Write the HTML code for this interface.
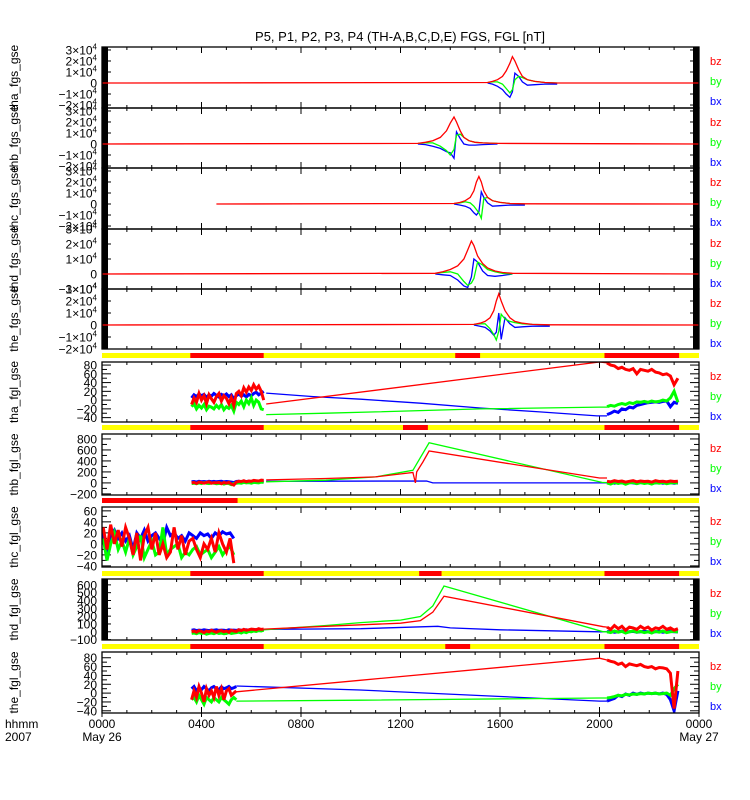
<!DOCTYPE html>
<html><head><meta charset="utf-8"><style>
html,body{margin:0;padding:0;background:#fff;}
svg{display:block;font-family:"Liberation Sans",sans-serif;}
</style></head><body>
<svg id="chart" width="750" height="800" viewBox="0 0 750 800" xmlns="http://www.w3.org/2000/svg">
<rect x="0" y="0" width="750" height="800" fill="#fff"/>
<text x="400" y="41" text-anchor="middle" font-size="13">P5, P1, P2, P3, P4 (TH-A,B,C,D,E) FGS, FGL [nT]</text>
<text x="5" y="728" font-size="12">hhmm</text>
<text x="5" y="741" font-size="12">2007</text>
</svg>
<script>
// ---------- data ----------
const xTickLabels = ["0000","0400","0800","1200","1600","2000","0000"];
const xTickHours = [0,4,8,12,16,20,24];
const xDateLabels = ["May 26","","","","","","May 27"];

// FGS (units of 1e4 nT)
const thaFgsT = [15.5,15.7,15.9,16.1,16.25,16.4,16.5,16.6,16.75,16.9,17.1,17.4,17.8,18.3];
const thaFgsBz = [0.05,0.15,0.3,0.6,1.1,1.8,2.4,2.0,1.2,0.6,0.3,0.15,0.05,0];
const thaFgsBx = [0,-0.1,-0.3,-0.6,-1.0,-1.3,-0.8,0.9,0.6,0.1,-0.2,-0.15,-0.1,-0.1];
const thaFgsBy = [0.05,0.1,0.1,-0.1,-0.5,-0.9,-0.6,0.3,0.6,0.5,0.3,0.15,0.05,0];
const thbFgsT = [12.7,13.0,13.3,13.6,13.85,14.0,14.15,14.25,14.4,14.55,14.75,15.0,15.3,15.9];
const thbFgsBz = [0.05,0.15,0.3,0.6,1.2,1.9,2.45,2.0,1.2,0.6,0.3,0.15,0.1,0.05];
const thbFgsBx = [0,-0.05,-0.2,-0.4,-0.7,-0.8,-1.3,1.1,0.5,0.0,-0.1,-0.1,-0.05,0];
const thbFgsBy = [0.05,0.1,0.1,-0.2,-0.6,-1.0,-0.5,0.8,0.9,0.6,0.3,0.15,0.1,0.05];
const thcFgsT = [14.15,14.4,14.6,14.8,14.95,15.05,15.15,15.25,15.35,15.5,15.7,16.0,16.4,17.0];
const thcFgsBz = [0.05,0.15,0.3,0.6,1.2,2.0,2.5,2.0,1.2,0.6,0.3,0.15,0.05,0.02];
const thcFgsBx = [0,-0.1,-0.2,-0.4,-0.8,-1.0,-0.7,1.1,0.6,0.1,-0.2,-0.15,-0.1,-0.1];
const thcFgsBy = [0.05,0.1,0.2,0.1,-0.2,-0.5,-0.8,-1.3,0.5,0.6,0.3,0.15,0.05,0];
const thdFgsT = [13.4,13.7,14.0,14.3,14.55,14.7,14.85,14.95,15.1,15.3,15.5,15.8,16.1,16.5];
const thdFgsBz = [0.05,0.15,0.3,0.55,1.0,1.6,2.2,1.9,1.2,0.7,0.4,0.2,0.1,0.05];
const thdFgsBx = [0,-0.05,-0.1,-0.4,-0.8,-0.9,-0.2,1.0,0.8,0.2,-0.1,-0.15,-0.1,0];
const thdFgsBy = [0.05,0.1,0.15,0,-0.5,-0.75,-0.6,-0.3,0.8,0.6,0.3,0.15,0.05,0];
const theFgsT = [14.95,15.2,15.4,15.6,15.75,15.85,15.95,16.05,16.2,16.4,16.6,16.9,17.3,18.0];
const theFgsBz = [0.05,0.15,0.3,0.6,1.2,2.0,2.6,2.0,1.2,0.6,0.3,0.15,0.05,0.02];
const theFgsBx = [0,-0.1,-0.2,-0.5,-0.85,-0.6,1.0,-1.2,0.6,0.1,-0.2,-0.15,-0.1,-0.1];
const theFgsBy = [0.05,0.1,0.1,-0.3,-0.8,-1.25,-0.5,0.9,0.5,0.3,0.2,0.1,0.05,0];
const fgsRedStart = [0,0,4.6,0,0];

// FGL shared noisy time bases (hours)
const noisyStartT = [3.6,3.7,3.8,3.9,4.0,4.1,4.2,4.3,4.4,4.5,4.6,4.7,4.8,4.9,5.0,5.1,5.2,5.3,5.4,5.5,5.6,5.7,5.8,5.9,6.0,6.1,6.2,6.3,6.4,6.5];
const noisyEndT = [20.3,20.45,20.6,20.75,20.9,21.05,21.2,21.35,21.5,21.65,21.8,21.95,22.1,22.25,22.4,22.55,22.7,22.85,23.0,23.15];
const thcNoisyT = [0.05,0.2,0.35,0.5,0.65,0.8,0.95,1.1,1.25,1.4,1.55,1.7,1.85,2.0,2.15,2.3,2.45,2.6,2.75,2.9,3.05,3.2,3.35,3.5,3.65,3.8,3.95,4.1,4.25,4.4,4.55,4.7,4.85,5.0,5.15,5.3];
const theNoisyT = [3.6,3.7,3.8,3.9,4.0,4.1,4.2,4.3,4.4,4.5,4.6,4.7,4.8,4.9,5.0,5.1,5.2,5.3,5.4];

// tha_fgl
const thaStartBx = [5,12,8,14,10,13,6,12,9,15,11,7,13,10,14,8,12,3,10,14,9,12,7,13,10,15,18,12,16,20];
const thaStartBz = [-10,5,-5,15,0,10,-8,12,3,-5,8,15,-2,10,4,-8,6,-12,15,20,10,28,18,30,22,35,25,32,20,0];
const thaStartBy = [-15,-8,-20,-12,-18,-10,-22,-14,-16,-20,-12,-18,-10,-22,-15,-19,-12,-25,-5,-10,-2,-15,0,-8,5,-12,0,-5,-20,-22];
const thaMidBxT = [6.6,8.5,10.4,12.8,15.2,17.6,19.9,20.3];
const thaMidBx = [16,8,2,-7,-18,-27,-36,-36];
const thaMidBzT = [6.6,20.0,20.3];
const thaMidBz = [-9,87,85];
const thaMidByT = [6.6,9,11,15.2,20,20.3];
const thaMidBy = [-33,-30,-27,-20,-16,-16];
const thaEndBz = [85,80,78,72,75,70,68,72,60,70,68,66,70,64,62,58,60,55,35,50];
const thaEndBy = [-15,-12,-14,-10,-8,-10,-6,-8,-4,-5,-3,-5,-2,-4,-3,0,-2,5,20,-5];
const thaEndBx = [-33,-30,-25,-28,-20,-22,-16,-18,-12,-10,-8,-6,-5,-4,-5,-3,-2,-15,-5,-8];

// thb_fgl
const thbStartBz = [0,10,-10,15,5,-5,10,20,-8,5,0,12,-15,8,-5,10,-20,-40,15,30,25,40,20,35,30,45,40,35,50,45];
const thbStartBy = [-10,-5,-15,0,-10,5,-8,-12,0,-5,-15,-10,-5,-20,-8,-12,-30,-10,-5,0,-5,10,0,5,-5,10,5,0,15,10];
const thbStartBx = [20,25,15,30,20,25,18,30,22,28,20,25,30,18,25,20,15,5,25,30,20,28,25,30,22,30,28,25,30,30];
const thbMidBzT = [6.6,9,11,12.5,12.6,12.65,12.9,13.15,20,20.3];
const thbMidBz = [55,80,110,190,0,200,380,580,90,90];
const thbMidByT = [6.6,9,11,12.5,13.15,20.1,20.3];
const thbMidBy = [20,50,110,230,730,10,5];
const thbMidBxT = [6.6,13.05,13.3,20.3];
const thbMidBx = [30,35,0,0];
const thbEndBz = [30,20,40,25,35,15,30,40,20,35,25,30,15,40,25,30,20,35,25,30];
const thbEndBy = [0,-20,10,-10,5,-25,0,10,-15,5,-10,0,-20,5,-5,10,-15,0,5,-5];
const thbEndBx = [0,10,-5,5,0,-5,10,0,-10,5,0,5,-5,0,10,-5,0,5,-5,0];

// thc_fgl
const thcBx = [20,-20,15,25,10,20,5,15,-10,20,10,25,5,15,20,10,0,30,15,20,10,15,5,20,15,10,20,15,18,10,20,15,22,18,20,10];
const thcBy = [10,-30,0,20,-10,5,-15,10,-20,-5,15,-25,-10,5,-20,-15,30,-20,-10,-5,0,-25,-15,-20,-10,-5,-20,-15,-10,-25,-15,-5,-20,-10,-5,-20];
const thcBz = [30,-10,35,0,25,-5,30,10,-20,20,-30,15,30,-10,20,-20,0,-25,-15,30,-10,15,-20,5,10,-10,-25,0,-10,10,-15,20,0,-15,10,-35];

// thd_fgl
const thdStartBx = [20,25,15,22,18,25,20,15,22,20,25,18,22,20,15,25,20,22,18,25,20,22,25,20,30,25,28,30,25,30];
const thdStartBz = [0,10,-5,15,5,-10,10,0,20,5,-5,10,15,0,10,-5,20,10,5,25,15,30,20,25,35,30,25,40,30,35];
const thdStartBy = [-20,-15,-25,-10,-20,-15,-30,-20,-15,-25,-10,-20,-15,-25,-20,-10,-20,-15,-10,-5,-15,0,-10,5,0,10,5,15,10,20];
const thdMidT = [6.5,9,10.4,12,12.8,13.3,13.75,20.15,20.3];
const thdMidBz = [35,70,90,110,143,250,455,65,60];
const thdMidBy = [25,80,117,150,195,330,585,0,0];
const thdMidBxT = [6.5,10.4,13,13.5,14,16,20,20.3];
const thdMidBx = [30,40,65,70,50,25,0,0];
const thdEndBz = [60,30,80,40,70,20,60,50,30,70,40,60,20,50,40,70,30,50,20,40];
const thdEndBy = [0,-10,10,-5,5,-15,0,10,-5,5,-10,0,-15,5,-5,10,-10,0,5,-5];
const thdEndBx = [0,5,-5,0,10,-5,0,5,-5,0,5,0,-5,0,5,-5,0,5,0,0];

// the_fgl
const theStartBx = [10,15,5,12,8,15,10,5,12,15,10,8,14,10,12,15,10,12,15];
const theStartBz = [-15,5,-10,15,0,-20,10,-5,5,-10,15,-5,10,-15,5,10,-5,0,5];
const theStartBy = [-15,-10,-20,-5,-15,-25,-10,-15,-20,-10,-15,-20,-10,-15,-20,-25,-15,-10,-15];
const theMidT = [5.4,10.37,20.0,20.3];
const theMidBz = [3,29,79,75];
const theMidBx = [16,7,-18,-18];
const theMidBy = [-18,-16,-11,-11];
const theEndBz = [75,72,70,65,68,60,66,64,62,65,60,58,60,55,58,57,55,45,-35,50];
const theEndBx = [-18,-15,-12,-5,-8,-2,-5,0,-3,0,-2,0,-1,0,-2,0,-3,-15,-40,5];
const theEndBy = [-11,-10,-8,-5,-6,-3,-4,-2,-3,-1,-2,0,-1,0,-2,-1,0,-5,10,20];

// ephemeris bars: red segments in hours
const bar1Red = [[3.55,6.5],[14.2,15.2],[20.2,23.2]];
const bar2Red = [[3.55,6.5],[12.1,13.1],[20.2,23.2]];
const bar3Red = [[0,5.45]];
const bar4Red = [[3.55,6.5],[12.75,13.65],[20.2,23.2]];
const bar5Red = [[3.55,6.5],[13.8,14.8],[20.2,23.2]];

// ---------- drawing ----------
const svg = document.getElementById('chart');
const NS = 'http://www.w3.org/2000/svg';
const X0 = 102, X1 = 699;
function xs(t){ return X0 + t*(X1-X0)/24; }
function mk(tag, attrs){ const e=document.createElementNS(NS,tag); for(const k in attrs) e.setAttribute(k,attrs[k]); svg.appendChild(e); return e; }
const RED='#ff0000', GRN='#00ff00', BLU='#0000ff';

const panels = [
 {name:'tha_fgs_gse', top:47, bot:108, ymin:-2.27, ymax:3.27, ticks:[3,2,1,0,-1,-2], sci:true, lb:true, rb:true},
 {name:'thb_fgs_gse', top:108, bot:168, ymin:-2.18, ymax:3.27, ticks:[3,2,1,0,-1,-2], sci:true, lb:true, rb:true},
 {name:'thc_fgs_gse', top:168, bot:229, ymin:-2.27, ymax:3.27, ticks:[3,2,1,0,-1,-2], sci:true, lb:true, rb:true},
 {name:'thd_fgs_gse', top:229, bot:289, ymin:-1, ymax:3, ticks:[3,2,1,0,-1], sci:true, lb:true, rb:true},
 {name:'the_fgs_gse', top:289, bot:349, ymin:-2, ymax:3, ticks:[3,2,1,0,-1,-2], sci:true, lb:true, rb:true},
 {name:'tha_fgl_gse', top:362, bot:422, ymin:-50, ymax:87, ticks:[80,60,40,20,0,-20,-40]},
 {name:'thb_fgl_gse', top:434, bot:495, ymin:-220, ymax:890, ticks:[800,600,400,200,0,-200]},
 {name:'thc_fgl_gse', top:507, bot:567, ymin:-42, ymax:67, ticks:[60,40,20,0,-20,-40]},
 {name:'thd_fgl_gse', top:579, bot:640, ymin:-105, ymax:675, ticks:[600,500,400,300,200,100,0,-100], lb:true, rb:true},
 {name:'the_fgl_gse', top:652, bot:713, ymin:-45, ymax:93, ticks:[80,60,40,20,0,-20,-40]}
];

function ysFor(p){ return v => p.bot - (v-p.ymin)/(p.ymax-p.ymin)*(p.bot-p.top); }

function line(p, ts, vs, color, name, sw){
  const y = ysFor(p); let pts=[];
  const n = Math.min(ts.length, vs.length);
  for(let i=0;i<n;i++) pts.push(xs(ts[i]).toFixed(1)+','+y(vs[i]).toFixed(1));
  const e = mk('polyline',{points:pts.join(' '),fill:'none',stroke:color,'stroke-width':sw||1.3,'stroke-linejoin':'miter','clip-path':'url(#clip-'+p.idx+')'});
  
  
}

const defs = mk('defs',{});
panels.forEach((p,i)=>{
  p.idx=i;
  const cp=document.createElementNS(NS,'clipPath'); cp.setAttribute('id','clip-'+i);
  const r=document.createElementNS(NS,'rect'); r.setAttribute('x',X0); r.setAttribute('y',p.top); r.setAttribute('width',X1-X0); r.setAttribute('height',p.bot-p.top);
  cp.appendChild(r); defs.appendChild(cp);
});

panels.forEach((p,i)=>{
  const y = ysFor(p);
  if(p.lb){ const b=mk('rect',{x:X0,y:p.top,width:6,height:p.bot-p.top,fill:'#000'});   }
  if(p.rb){ const b=mk('rect',{x:X1-6,y:p.top,width:6,height:p.bot-p.top,fill:'#000'});   }
  p.ticks.forEach((v,k)=>{
    const yy=y(v);
    const tl=mk('line',{x1:X0,x2:X0+9,y1:yy,y2:yy,stroke:'#000','stroke-width':1});
     
    const tr=mk('line',{x1:X1-9,x2:X1,y1:yy,y2:yy,stroke:'#000','stroke-width':1});
     
    if(k<p.ticks.length-1){
      const ym=y((v+p.ticks[k+1])/2);
      mk('line',{x1:X0,x2:X0+5,y1:ym,y2:ym,stroke:'#000'});
      mk('line',{x1:X1-5,x2:X1,y1:ym,y2:ym,stroke:'#000'});
    }
    const t=mk('text',{x:97,y:yy+4.5,'text-anchor':'end','font-size':12});
    
    
    if(p.sci && v!==0){
      t.textContent=(v<0?'\u2212':'')+Math.abs(v)+'\u00d710';
      const s=document.createElementNS(NS,'tspan'); s.setAttribute('dy','-5'); s.setAttribute('font-size','8'); s.textContent='4'; t.appendChild(s);
    } else t.textContent = v<0 ? '\u2212'+Math.abs(v) : String(v);
  });
  for(let h=1;h<24;h++){
    const len = h%4===0?6:3;
    mk('line',{x1:xs(h),x2:xs(h),y1:p.top,y2:p.top+len,stroke:'#000'});
    mk('line',{x1:xs(h),x2:xs(h),y1:p.bot-len,y2:p.bot,stroke:'#000'});
  }
  const cy=(p.top+p.bot)/2;
  const tt=mk('text',{x:18,y:cy,'text-anchor':'middle','font-size':12,transform:'rotate(-90 18 '+cy+')'});
  tt.textContent=p.name;
  
  
  [['bz',RED,14],['by',GRN,34],['bx',BLU,54]].forEach(l=>{
    const lt=mk('text',{x:710,y:p.top+l[2]+4,fill:l[1],'font-size':11});
    lt.textContent=l[0];
    
    
  });
});

// FGS series
const fgs = [[thaFgsT,thaFgsBz,thaFgsBy,thaFgsBx],[thbFgsT,thbFgsBz,thbFgsBy,thbFgsBx],[thcFgsT,thcFgsBz,thcFgsBy,thcFgsBx],[thdFgsT,thdFgsBz,thdFgsBy,thdFgsBx],[theFgsT,theFgsBz,theFgsBy,theFgsBx]];
fgs.forEach((d,i)=>{
  const p=panels[i];
  line(p,d[0],d[3],BLU,'series-bx');
  line(p,d[0],d[2],GRN,'series-by');
  const rt=[fgsRedStart[i]].concat(d[0]).concat([24]);
  const rv=[0].concat(d[1]).concat([0]);
  line(p,rt,rv,RED,'series-bz');
});

// FGL series
const NW = 3;
function fglPanel(i, segs){ segs.forEach(s=>line(panels[i],s[0],s[1],s[2],s[3],s[4])); }
fglPanel(5,[
  [noisyStartT,thaStartBx,BLU,'series-bx-noisy',NW],[noisyStartT,thaStartBy,GRN,'series-by-noisy',NW],[noisyStartT,thaStartBz,RED,'series-bz-noisy',NW],
  [thaMidBxT,thaMidBx,BLU,'series-bx'],[thaMidByT,thaMidBy,GRN,'series-by'],[thaMidBzT,thaMidBz,RED,'series-bz'],
  [noisyEndT,thaEndBx,BLU,'series-bx-noisy',NW],[noisyEndT,thaEndBy,GRN,'series-by-noisy',NW],[noisyEndT,thaEndBz,RED,'series-bz-noisy',NW]
]);
fglPanel(6,[
  [noisyStartT,thbStartBx,BLU,'series-bx-noisy',NW],[noisyStartT,thbStartBy,GRN,'series-by-noisy',NW],[noisyStartT,thbStartBz,RED,'series-bz-noisy',NW],
  [thbMidBxT,thbMidBx,BLU,'series-bx'],[thbMidByT,thbMidBy,GRN,'series-by'],[thbMidBzT,thbMidBz,RED,'series-bz'],
  [noisyEndT,thbEndBx,BLU,'series-bx-noisy',NW],[noisyEndT,thbEndBy,GRN,'series-by-noisy',NW],[noisyEndT,thbEndBz,RED,'series-bz-noisy',NW]
]);
fglPanel(7,[
  [thcNoisyT,thcBx,BLU,'series-bx-noisy',NW],[thcNoisyT,thcBy,GRN,'series-by-noisy',NW],[thcNoisyT,thcBz,RED,'series-bz-noisy',NW]
]);
fglPanel(8,[
  [noisyStartT,thdStartBx,BLU,'series-bx-noisy',NW],[noisyStartT,thdStartBy,GRN,'series-by-noisy',NW],[noisyStartT,thdStartBz,RED,'series-bz-noisy',NW],
  [thdMidBxT,thdMidBx,BLU,'series-bx'],[thdMidT,thdMidBy,GRN,'series-by'],[thdMidT,thdMidBz,RED,'series-bz'],
  [noisyEndT,thdEndBx,BLU,'series-bx-noisy',NW],[noisyEndT,thdEndBy,GRN,'series-by-noisy',NW],[noisyEndT,thdEndBz,RED,'series-bz-noisy',NW]
]);
fglPanel(9,[
  [theNoisyT,theStartBx,BLU,'series-bx-noisy',NW],[theNoisyT,theStartBy,GRN,'series-by-noisy',NW],[theNoisyT,theStartBz,RED,'series-bz-noisy',NW],
  [theMidT,theMidBx,BLU,'series-bx'],[theMidT,theMidBy,GRN,'series-by'],[theMidT,theMidBz,RED,'series-bz'],
  [noisyEndT,theEndBx,BLU,'series-bx-noisy',NW],[noisyEndT,theEndBy,GRN,'series-by-noisy',NW],[noisyEndT,theEndBz,RED,'series-bz-noisy',NW]
]);

// panel frames
panels.forEach(p=>{
  const f=mk('rect',{x:X0,y:p.top,width:X1-X0,height:p.bot-p.top,fill:'none',stroke:'#000','stroke-width':1.3});
  
  
});

// ephemeris bars
const bars=[[353,bar1Red],[425,bar2Red],[498,bar3Red],[571,bar4Red],[644,bar5Red]];
bars.forEach((b,i)=>{
  const y=mk('rect',{x:X0,y:b[0],width:X1-X0,height:5,fill:'#ffff00'});
  
  
  b[1].forEach(s=>{
    const r=mk('rect',{x:xs(s[0]),y:b[0],width:xs(s[1])-xs(s[0]),height:5,fill:'#ff0000'});
    
    
  });
});

// x tick labels
xTickHours.forEach((h,i)=>{
  const t=mk('text',{x:xs(h),y:728,'text-anchor':'middle','font-size':12});
  t.textContent=xTickLabels[i];
  
  
  if(xDateLabels[i]){
    const d=mk('text',{x:xs(h),y:741,'text-anchor':'middle','font-size':12});
    d.textContent=xDateLabels[i];
    
    
  }
  mk('line',{x1:xs(h),x2:xs(h),y1:713,y2:717,stroke:'#000'});
});
</script>
</body></html>
